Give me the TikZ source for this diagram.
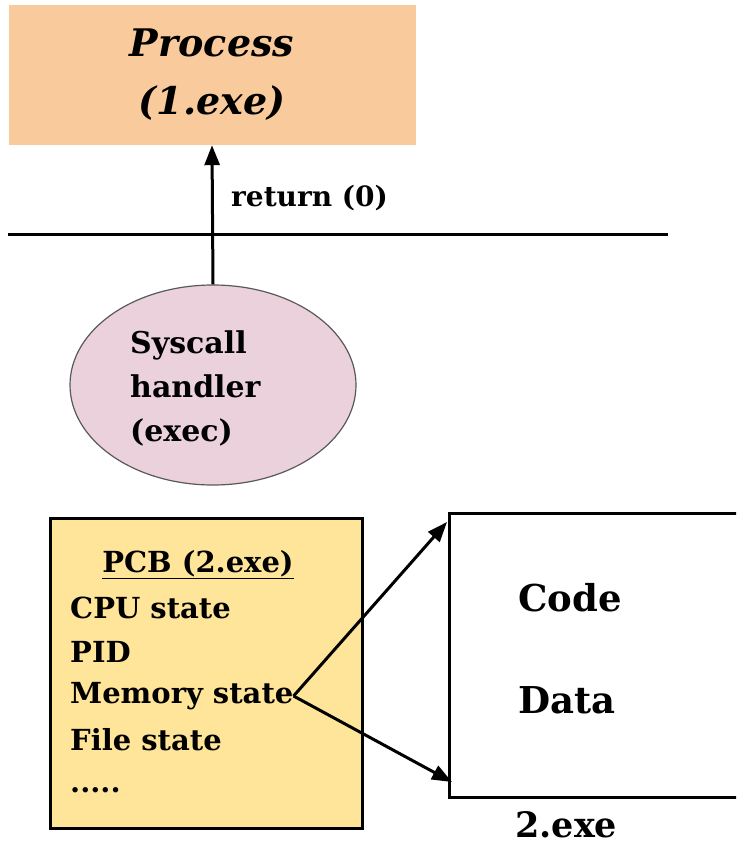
\documentclass[tikz,border=0pt]{standalone}
\usepackage{fontspec}
\setmainfont{DejaVu Serif}
\usetikzlibrary{shapes.geometric,arrows.meta}

\definecolor{procOrange}{HTML}{F9CB9C}
\definecolor{handlerPink}{HTML}{EAD1DC}
\definecolor{pcbYellow}{HTML}{FFE599}

\tikzstyle{procbox}=[fill=procOrange,minimum width=407,minimum height=140,inner sep=0,align=center,font=\fontsize{38}{58}\selectfont\bfseries\itshape]
\tikzstyle{handler}=[ellipse,fill=handlerPink,draw=black!65,line width=1.2pt,minimum width=286,minimum height=200,inner sep=0]
\tikzstyle{pcbbox}=[fill=pcbYellow,draw=black,line width=3pt,minimum width=312,minimum height=310,inner sep=0]
\tikzstyle{imgbox}=[draw=black,line width=3pt,minimum width=320,minimum height=284,inner sep=0]
\tikzstyle{body}=[anchor=west,inner sep=0,font=\fontsize{29}{44}\selectfont\bfseries]
\tikzstyle{big}=[anchor=west,inner sep=0,font=\fontsize{37}{44}\selectfont\bfseries]
\tikzstyle{arrowStyle}=[line width=3pt,-{Triangle[length=20pt,width=15pt]}]

\begin{document}
\begin{tikzpicture}[x=1pt,y=-1pt]

	\clip (0,0) rectangle (736,845);

	% Prozess oben
	\node(proc) at (212,75) [procbox] {Process\\(1.exe)};
	\draw[line width=3pt] (8,234) -- (668,234);

	% Syscall handler
	\node(sys) at (213,385) [handler] {};
	\node(sysText) at (130,388) [body, align=left, font=\fontsize{30}{44}\selectfont\bfseries] {Syscall\\handler\\(exec)};
	\draw[arrowStyle] (sys.north) -- node[right=14pt, pos=0.62, font=\fontsize{28}{30}\selectfont\bfseries]{return (0)} (proc.south);

	% PCB
	\node(pcb) at (206,673) [pcbbox] {};
	\node(pcbTitle) at (198,565) [font=\fontsize{29}{30}\selectfont\bfseries, inner sep=0] {\underline{PCB (2.exe)}};
	\node(cpu) at (70,608) [body] {CPU state};
	\node(pid) at (70,652) [body] {PID};
	\node(mem) at (70,696) [body] {Memory state};
	\node(file) at (70,740) [body] {File state};
	\node(dots) at (70,790) [body] {.....};

	% Programmbild
	\node(img) at (609,655) [imgbox] {};
	\node(code) at (518,598) [big] {Code};
	\node(data) at (518,700) [big] {Data};
	\node(imgName) at (515,825) [big, font=\fontsize{35}{40}\selectfont\bfseries] {2.exe};

	\coordinate(imgTop) at (447,522);
	\coordinate(imgBot) at (452,782);
	\draw[arrowStyle] (mem.east) -- (imgTop);
	\draw[arrowStyle] (mem.east) -- (imgBot);

\end{tikzpicture}
\end{document}
